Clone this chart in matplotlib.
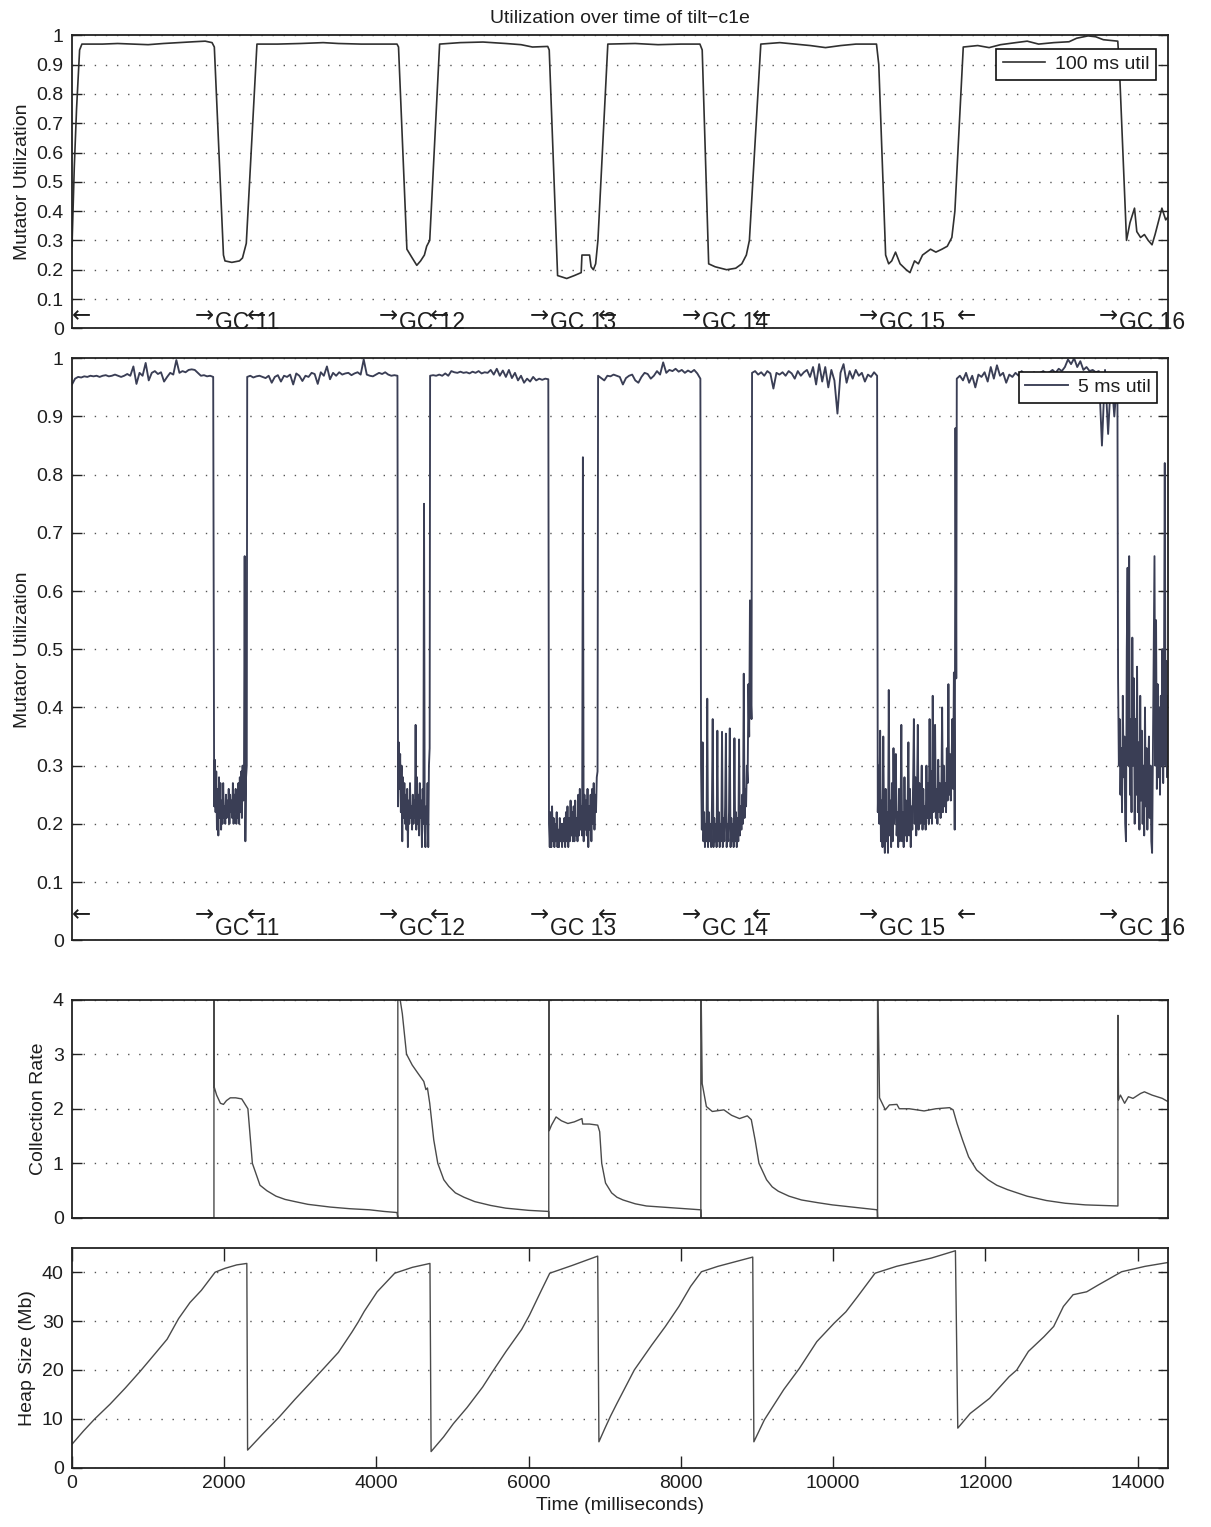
import numpy as np
import matplotlib
matplotlib.use("Agg")
import matplotlib.pyplot as plt

plt.rcParams['font.family'] = ['Liberation Sans', 'DejaVu Sans']

# ---------------- data ----------------
title = "Utilization over time of tilt\u2212c1e"
gc_labels = ["GC 11", "GC 12", "GC 13", "GC 14", "GC 15", "GC 16"]
gc_start = [1865, 4281, 6264, 8262, 10584, 13742]
gc_end = [0, 2298, 4701, 6907, 8930, 11620]   # first entry: end of GC 10

# 100 ms window utilization
u100_t = [0, 30, 60, 100, 130, 400, 600, 800, 1000, 1200, 1400, 1600, 1750, 1840, 1870,
          1990, 2010, 2100, 2200, 2240, 2270, 2290, 2430, 2700, 3000, 3300, 3500, 3800, 4000,
          4270, 4290, 4400, 4470, 4530, 4580, 4630, 4660, 4700, 4830, 5100, 5400, 5700, 5900,
          6050, 6250, 6270, 6380, 6500, 6600, 6690, 6700, 6800, 6820, 6850, 6880, 6910, 7040,
          7400, 7700, 8000, 8250, 8280, 8365, 8450, 8600, 8720, 8800, 8860, 8900, 9050, 9300,
          9500, 9700, 9900, 10100, 10300, 10570, 10600, 10690, 10730, 10770, 10820, 10880,
          10960, 11010, 11070, 11120, 11175, 11280, 11350, 11430, 11500, 11560, 11600, 11710,
          11900, 12050, 12200, 12400, 12550, 12700, 12900, 13100, 13200, 13350, 13450, 13550,
          13740, 13760, 13855, 13900, 13960, 13990, 14040, 14090, 14140, 14190, 14230, 14270,
          14320, 14370, 14400]
u100_v = [0.28, 0.55, 0.75, 0.95, 0.97, 0.97, 0.972, 0.97, 0.968, 0.972, 0.975, 0.978, 0.98, 0.975, 0.96,
          0.25, 0.23, 0.225, 0.23, 0.24, 0.27, 0.29, 0.97, 0.97, 0.972, 0.975, 0.972, 0.97, 0.97,
          0.97, 0.96, 0.27, 0.24, 0.215, 0.23, 0.25, 0.28, 0.3, 0.97, 0.975, 0.977, 0.972, 0.968,
          0.96, 0.962, 0.95, 0.18, 0.17, 0.18, 0.19, 0.25, 0.25, 0.21, 0.2, 0.22, 0.3, 0.97,
          0.972, 0.968, 0.97, 0.97, 0.95, 0.22, 0.21, 0.2, 0.205, 0.22, 0.25, 0.3, 0.97, 0.975,
          0.97, 0.965, 0.958, 0.965, 0.97, 0.97, 0.9, 0.25, 0.22, 0.23, 0.26, 0.22,
          0.2, 0.19, 0.23, 0.22, 0.25, 0.27, 0.26, 0.27, 0.28, 0.31, 0.4, 0.96,
          0.965, 0.958, 0.968, 0.975, 0.98, 0.97, 0.975, 0.978, 0.99, 0.998, 0.995, 0.985,
          0.98, 0.9, 0.3, 0.36, 0.41, 0.33, 0.31, 0.32, 0.3, 0.285, 0.32, 0.36,
          0.41, 0.37, 0.38]

# 5 ms window utilization: segments (start ms, end ms) with equally spaced samples
u5_bounds = [(0, 1855), (1868, 2296), (2302, 4276), (4284, 4699), (4705, 6258),
             (6267, 6905), (6912, 8256), (8265, 8928), (8935, 10578), (10587, 11618),
             (11625, 13735), (13744, 14420)]
u5_mut0 = [0.955, 0.965, 0.968, 0.967, 0.969, 0.968, 0.97, 0.969, 0.97, 0.968, 0.97, 0.971,
           0.969, 0.97, 0.972, 0.97, 0.968, 0.97, 0.973, 0.97, 0.986, 0.956, 0.975, 0.97,
           0.992, 0.962, 0.975, 0.978, 0.973, 0.976, 0.96, 0.968, 0.975, 0.972, 0.997, 0.975,
           0.978, 0.976, 0.98, 0.981, 0.98, 0.975, 0.97, 0.971, 0.969, 0.97, 0.968]
u5_gc11 = [0.23, 0.31, 0.22, 0.29, 0.19, 0.26, 0.18, 0.28, 0.21, 0.27, 0.19, 0.24, 0.2, 0.27,
           0.21, 0.23, 0.2, 0.25, 0.21, 0.24, 0.22, 0.26, 0.2, 0.25, 0.22, 0.24, 0.21, 0.27,
           0.2, 0.25, 0.22, 0.26, 0.2, 0.23, 0.21, 0.27, 0.2, 0.28, 0.22, 0.29, 0.21, 0.3,
           0.24, 0.28, 0.66, 0.17, 0.28, 0.3]
u5_mut1 = [0.968, 0.97, 0.967, 0.969, 0.97, 0.968, 0.966, 0.97, 0.958, 0.968, 0.971, 0.96,
           0.97, 0.968, 0.972, 0.955, 0.974, 0.97, 0.961, 0.97, 0.968, 0.975, 0.973, 0.956,
           0.976, 0.97, 0.986, 0.964, 0.975, 0.97, 0.976, 0.972, 0.974, 0.975, 0.971, 0.974,
           0.976, 0.972, 0.998, 0.972, 0.97, 0.969, 0.972, 0.975, 0.973, 0.976, 0.972, 0.97,
           0.971, 0.97]
u5_gc12 = [0.23, 0.34, 0.26, 0.32, 0.22, 0.3, 0.17, 0.28, 0.21, 0.27, 0.2, 0.25, 0.19, 0.26,
           0.16, 0.24, 0.2, 0.27, 0.21, 0.23, 0.19, 0.25, 0.2, 0.24, 0.21, 0.37, 0.19, 0.28,
           0.2, 0.25, 0.18, 0.27, 0.21, 0.24, 0.16, 0.26, 0.2, 0.75, 0.19, 0.16, 0.23, 0.2,
           0.27, 0.16, 0.3, 0.33]
u5_mut2 = [0.97, 0.971, 0.97, 0.972, 0.97, 0.974, 0.97, 0.978, 0.976, 0.975, 0.977, 0.975,
           0.976, 0.974, 0.977, 0.975, 0.978, 0.974, 0.976, 0.975, 0.98, 0.972, 0.982, 0.97,
           0.979, 0.968, 0.98, 0.966, 0.975, 0.962, 0.97, 0.958, 0.965, 0.96, 0.968, 0.962,
           0.965, 0.963, 0.965, 0.964]
u5_gc13 = [0.2, 0.16, 0.22, 0.16, 0.23, 0.17, 0.21, 0.16, 0.2, 0.17, 0.22, 0.16, 0.19, 0.16,
           0.21, 0.17, 0.2, 0.16, 0.2, 0.17, 0.21, 0.16, 0.22, 0.17, 0.23, 0.16, 0.21, 0.17,
           0.24, 0.18, 0.22, 0.17, 0.23, 0.17, 0.24, 0.18, 0.21, 0.17, 0.25, 0.18, 0.26, 0.19,
           0.23, 0.18, 0.83, 0.17, 0.25, 0.19, 0.24, 0.18, 0.26, 0.16, 0.23, 0.19, 0.25, 0.17,
           0.26, 0.2, 0.27, 0.19, 0.25, 0.22, 0.28, 0.29]
u5_mut3 = [0.97, 0.966, 0.962, 0.97, 0.969, 0.972, 0.97, 0.968, 0.955, 0.966, 0.97, 0.972,
           0.962, 0.958, 0.968, 0.975, 0.973, 0.965, 0.97, 0.978, 0.972, 0.993, 0.975, 0.98,
           0.978, 0.982, 0.977, 0.98, 0.975, 0.979, 0.976, 0.98, 0.974, 0.965]
u5_gc14 = [0.3, 0.19, 0.34, 0.17, 0.22, 0.16, 0.2, 0.17, 0.415, 0.16, 0.22, 0.17, 0.2, 0.16,
           0.23, 0.38, 0.16, 0.21, 0.17, 0.2, 0.16, 0.36, 0.17, 0.22, 0.16, 0.2, 0.17, 0.358,
           0.16, 0.21, 0.17, 0.23, 0.355, 0.16, 0.2, 0.17, 0.22, 0.364, 0.16, 0.21, 0.17, 0.2,
           0.16, 0.347, 0.17, 0.22, 0.16, 0.21, 0.17, 0.345, 0.18, 0.23, 0.19, 0.25, 0.2, 0.458,
           0.21, 0.26, 0.23, 0.3, 0.27, 0.44, 0.35, 0.584, 0.42, 0.38]
u5_mut4 = [0.975, 0.978, 0.972, 0.976, 0.97, 0.978, 0.974, 0.948, 0.975, 0.972, 0.976, 0.97,
           0.978, 0.974, 0.965, 0.978, 0.97, 0.976, 0.98, 0.968, 0.985, 0.955, 0.99, 0.96,
           0.985, 0.95, 0.98, 0.962, 0.905, 0.975, 0.99, 0.958, 0.978, 0.965, 0.98, 0.97,
           0.975, 0.96, 0.972, 0.968, 0.976, 0.97]
u5_gc15 = [0.22, 0.3, 0.2, 0.36, 0.17, 0.24, 0.16, 0.35, 0.19, 0.15, 0.26, 0.17, 0.22, 0.15,
           0.43, 0.18, 0.24, 0.16, 0.27, 0.17, 0.33, 0.2, 0.25, 0.32, 0.18, 0.22, 0.16, 0.26,
           0.17, 0.21, 0.37, 0.17, 0.22, 0.16, 0.28, 0.18, 0.24, 0.17, 0.23, 0.34, 0.18, 0.26,
           0.16, 0.23, 0.19, 0.27, 0.38, 0.2, 0.28, 0.18, 0.25, 0.37, 0.19, 0.27, 0.2, 0.24,
           0.3, 0.19, 0.26, 0.2, 0.23, 0.19, 0.3, 0.21, 0.27, 0.2, 0.38, 0.21, 0.29, 0.2,
           0.42, 0.22, 0.28, 0.37, 0.21, 0.26, 0.2, 0.31, 0.22, 0.27, 0.21, 0.25, 0.4, 0.22,
           0.3, 0.23, 0.27, 0.22, 0.33, 0.24, 0.44, 0.25, 0.32, 0.24, 0.3, 0.38, 0.26, 0.46,
           0.19, 0.88, 0.45]
u5_mut5 = [0.965, 0.97, 0.962, 0.975, 0.958, 0.97, 0.95, 0.972, 0.968, 0.976, 0.96, 0.985,
           0.965, 0.988, 0.97, 0.975, 0.958, 0.972, 0.968, 0.975, 0.97, 0.978, 0.972, 0.975,
           0.97, 0.976, 0.972, 0.975, 0.978, 0.974, 0.976, 0.98, 0.975, 0.982, 0.978, 0.985,
           0.998, 0.99, 1.0, 0.985, 0.995, 0.98, 0.985, 0.978, 0.98, 0.976, 0.978, 0.85,
           0.98, 0.87, 0.975, 0.9, 0.97]
u5_gc16 = [0.45, 0.3, 0.38, 0.25, 0.33, 0.22, 0.42, 0.28, 0.35, 0.2, 0.17, 0.5, 0.64, 0.3,
           0.66, 0.25, 0.38, 0.22, 0.52, 0.3, 0.45, 0.2, 0.38, 0.25, 0.47, 0.22, 0.34, 0.19,
           0.42, 0.24, 0.36, 0.2, 0.3, 0.18, 0.4, 0.23, 0.33, 0.19, 0.29, 0.35, 0.21, 0.3,
           0.17, 0.15, 0.32, 0.5, 0.66, 0.3, 0.55, 0.26, 0.44, 0.28, 0.4, 0.25, 0.42, 0.3,
           0.5, 0.27, 0.45, 0.82, 0.3, 0.48, 0.28, 0.42, 0.3, 0.38]
u5_values = [u5_mut0, u5_gc11, u5_mut1, u5_gc12, u5_mut2, u5_gc13, u5_mut3, u5_gc14,
             u5_mut4, u5_gc15, u5_mut5, u5_gc16]

# collection rate
cr_t = [0, 1865, 1865, 1868, 1900, 1950, 1990, 2030, 2080, 2150, 2230, 2266, 2311, 2340, 2370,
        2420, 2470, 2560, 2680, 2800, 2930, 3100, 3395, 3650, 3909, 4100, 4270,
        4281, 4281, 4300, 4340, 4395, 4470, 4550, 4622, 4650, 4670, 4700, 4753, 4806, 4885,
        4950, 5037, 5150, 5292, 5500, 5700, 6000, 6262,
        6264, 6264, 6270, 6300, 6360, 6430, 6515, 6600, 6700, 6710, 6800, 6907, 6933, 6960,
        7010, 7090, 7160, 7240, 7400, 7547, 7750, 7955, 8260,
        8262, 8262, 8280, 8335, 8413, 8565, 8666, 8770, 8873, 8925, 8975, 9026, 9126, 9200,
        9280, 9420, 9585, 9800, 9990, 10250, 10500, 10580,
        10584, 10584, 10610, 10686, 10740, 10838, 10870, 11000, 11195, 11350, 11530, 11577,
        11628, 11700, 11780, 11885, 12036, 12150, 12290, 12547, 12802, 13050, 13316, 13720,
        13742, 13742, 13750, 13775, 13830, 13880, 13940, 14040, 14090, 14190, 14325, 14400]
cr_v = [0, 0, 4.6, 2.4, 2.25, 2.1, 2.08, 2.15, 2.2, 2.2, 2.18, 2.1, 2.0, 1.5, 1.0,
        0.8, 0.6, 0.5, 0.4, 0.34, 0.3, 0.25, 0.2, 0.17, 0.15, 0.12, 0.1,
        0, 4.6, 4.1, 3.74, 3.0, 2.8, 2.64, 2.5, 2.35, 2.38, 2.1, 1.43, 1.0, 0.7,
        0.58, 0.46, 0.38, 0.3, 0.23, 0.18, 0.14, 0.12,
        0, 4.6, 1.6, 1.7, 1.85, 1.78, 1.73, 1.76, 1.82, 1.72, 1.72, 1.7, 1.58, 1.0,
        0.64, 0.46, 0.38, 0.33, 0.26, 0.22, 0.2, 0.18, 0.15,
        0, 4.6, 2.46, 2.04, 1.95, 1.98, 1.88, 1.82, 1.87, 1.8, 1.43, 1.0, 0.7, 0.57,
        0.49, 0.4, 0.33, 0.28, 0.24, 0.2, 0.16, 0.15,
        0, 4.6, 2.2, 1.98, 2.07, 2.08, 2.0, 2.0, 1.96, 2.0, 2.02, 1.98,
        1.73, 1.43, 1.12, 0.88, 0.7, 0.6, 0.52, 0.4, 0.32, 0.27, 0.24, 0.22,
        0.22, 3.71, 2.16, 2.25, 2.1, 2.22, 2.19, 2.28, 2.31, 2.25, 2.19, 2.13]

# heap size (Mb)
heap_t = [0, 150, 300, 500, 700, 900, 1100, 1250, 1400, 1550, 1700, 1880, 2010, 2164, 2297,
          2307, 2500, 2730, 2930, 3140, 3300, 3500, 3680, 3760, 3840, 4010, 4240, 4472, 4703,
          4718, 4882, 5010, 5190, 5395, 5523, 5703, 5908, 6010, 6164, 6277, 6574, 6907,
          6923, 7000, 7077, 7158, 7388, 7617, 7796, 7974, 8128, 8270, 8485, 8944,
          8959, 9097, 9352, 9556, 9786, 10015, 10168, 10321, 10551, 10832, 11291, 11607,
          11638, 11801, 12056, 12311, 12413, 12566, 12770, 12898, 13026, 13153, 13332, 13485,
          13791, 14097, 14403]
heap_v = [4.8, 7.5, 10.0, 13.0, 16.3, 19.8, 23.5, 26.3, 30.5, 33.8, 36.3, 40.0, 40.8, 41.5, 41.8,
          3.6, 6.8, 10.5, 14.0, 17.5, 20.2, 23.6, 27.8, 29.8, 32.0, 36.0, 39.8, 41.0, 41.8,
          3.3, 6.3, 9.0, 12.3, 16.5, 19.6, 23.8, 28.3, 31.2, 36.2, 39.8, 41.4, 43.3,
          5.3, 8.0, 10.6, 13.1, 20.0, 25.1, 28.9, 33.0, 37.1, 40.1, 41.2, 43.1,
          5.3, 9.8, 16.0, 20.3, 25.8, 29.6, 31.9, 35.0, 39.8, 41.2, 42.9, 44.4,
          8.1, 11.1, 14.2, 18.6, 20.0, 23.8, 26.8, 28.9, 33.0, 35.4, 36.0, 37.4,
          40.1, 41.2, 42.0]

assert len(u100_t) == len(u100_v)
assert len(cr_t) == len(cr_v)
assert len(heap_t) == len(heap_v)

# ---------------- figure ----------------
W, H = 1211, 1527
fig = plt.figure(figsize=(W / 100, H / 100), dpi=100)

def rect(top_px, bot_px, left_px=72, right_px=1168):
    return [left_px / W, 1 - bot_px / H, (right_px - left_px) / W, (bot_px - top_px) / H]

ax1 = fig.add_axes(rect(35.3, 328.3))
ax2 = fig.add_axes(rect(358.3, 940.2))
ax3 = fig.add_axes(rect(999.5, 1218))
ax4 = fig.add_axes(rect(1247.8, 1467.7))

TXT = '#1e1e1e'
XMAX = 14400
grid_style = dict(linestyle=(0, (1, 7)), color='#555555', linewidth=1.0)

for ax in (ax1, ax2, ax3, ax4):
    ax.set_xlim(0, XMAX)
    for s in ax.spines.values():
        s.set_linewidth(1.3)
        s.set_color('#222222')
    ax.tick_params(axis='both', direction='in', length=7, width=1.0, labelsize=14,
                   colors='#222222', labelcolor=TXT, right=True, top=True, pad=6)
    ax.yaxis.grid(True, **grid_style)
    ax.set_axisbelow(True)

# panel 1: 100 ms utilization
ax1.plot(u100_t, u100_v, color='#303030', lw=1.2, label='100 ms util')
# panel 2: 5 ms utilization
u5_t = np.concatenate([np.linspace(a, b, len(v)) for (a, b), v in zip(u5_bounds, u5_values)])
u5_v = np.concatenate([np.asarray(v, float) for v in u5_values])
ax2.plot(u5_t, u5_v, color='#3a3e55', lw=1.35, label='5 ms util')

for ax in (ax1, ax2):
    ax.set_ylim(0, 1)
    ax.set_yticks(np.arange(0, 1.01, 0.1))
    ax.set_yticklabels(['0', '0.1', '0.2', '0.3', '0.4', '0.5', '0.6', '0.7', '0.8', '0.9', '1'])
    ax.set_xticks([])
    ax.set_ylabel('Mutator Utilization', fontsize=14, color=TXT)
    for xs, lab in zip(gc_start, gc_labels):
        ax.text(xs, 0.044, '\u2192', ha='right', va='center', fontsize=16.5,
                family=['DejaVu Sans'], color=TXT, clip_on=False)
        ax.text(xs + 20, 0.02, lab, ha='left', va='center', fontsize=16.5,
                color=TXT, clip_on=False)
    for xe in gc_end:
        ax.text(xe, 0.044, '\u2190', ha='left', va='center', fontsize=16.5,
                family=['DejaVu Sans'], color=TXT, clip_on=False)

leg_kw = dict(loc='upper right', borderaxespad=0, fontsize=14, handlelength=2.2,
              handletextpad=0.5, borderpad=0.33, fancybox=False, framealpha=1,
              edgecolor='#111111')
l1 = ax1.legend(bbox_to_anchor=(0.989, 0.953), **leg_kw)
l2 = ax2.legend(bbox_to_anchor=(0.990, 0.976), **leg_kw)
for lg in (l1, l2):
    lg.get_frame().set_linewidth(1.2)
    for t in lg.get_texts():
        t.set_color(TXT)

ax1.set_title(title, fontsize=14, color=TXT, pad=9)

# panel 3: collection rate
ax3.plot(cr_t, cr_v, color='#4a4a4a', lw=1.0)
ax3.set_ylim(0, 4)
ax3.set_yticks([0, 1, 2, 3, 4])
ax3.set_xticks([])
ax3.set_ylabel('Collection Rate', fontsize=14, color=TXT)

# panel 4: heap size
ax4.plot(heap_t, heap_v, color='#4a4a4a', lw=1.0)
ax4.set_ylim(0, 45)
ax4.set_yticks([0, 10, 20, 30, 40])
ax4.set_xticks([0, 2000, 4000, 6000, 8000, 10000, 12000, 14000])
ax4.set_ylabel('Heap Size (Mb)', fontsize=14, color=TXT)
ax4.set_xlabel('Time (milliseconds)', fontsize=14, color=TXT, labelpad=4)
ax4.tick_params(axis='x', pad=5, length=9)

fig.savefig('out.png', dpi=100, facecolor='white')
